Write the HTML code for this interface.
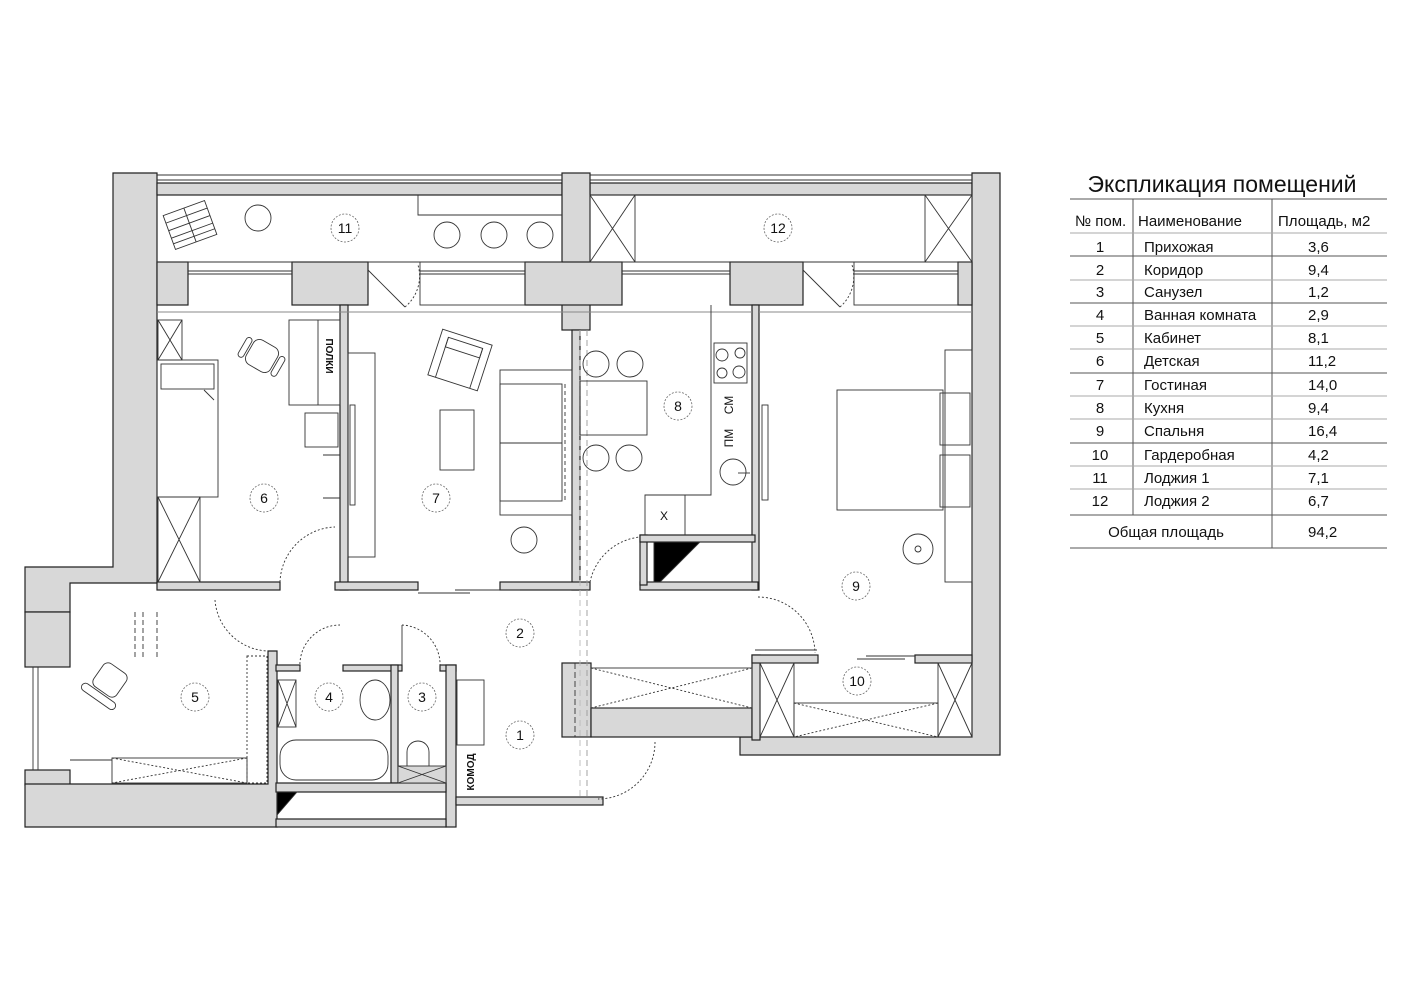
<!DOCTYPE html>
<html><head><meta charset="utf-8"><style>
html,body{margin:0;padding:0;background:#fff;}
svg{display:block;}
text{font-family:"Liberation Sans",Arial,sans-serif;fill:#111;}
</style></head><body>
<svg width="1414" height="1000" viewBox="0 0 1414 1000" xmlns="http://www.w3.org/2000/svg">
<g fill="#d8d8d8" stroke="#222" stroke-width="1.2">
<polygon points="113,173 157,173 157,583 70,583 70,612 25,612 25,567 113,567"/>
<rect x="25" y="612" width="45" height="55"/>
<rect x="25" y="770" width="45" height="15"/>
<polygon points="25,784 268,784 268,651 277,651 277,827 25,827"/>
<rect x="157" y="183" width="405" height="12"/>
<rect x="590" y="183" width="382" height="12"/>
<rect x="562" y="173" width="28" height="157"/>
<rect x="525" y="262" width="97" height="43"/>
<polygon points="972,173 1000,173 1000,755 740,755 740,737 972,737"/>
<rect x="157" y="262" width="31" height="43"/>
<rect x="292" y="262" width="76" height="43"/>
<rect x="730" y="262" width="73" height="43"/>
<rect x="958" y="262" width="14" height="43"/>
<rect x="340" y="305" width="8" height="285"/>
<rect x="572" y="330" width="8" height="260"/>
<rect x="752" y="305" width="7" height="285"/>
<rect x="157" y="582" width="123" height="8"/>
<rect x="335" y="582" width="83" height="8"/>
<rect x="500" y="582" width="90" height="8"/>
<rect x="640" y="582" width="118" height="8"/>
<rect x="640" y="535" width="7" height="50"/>
<rect x="640" y="535" width="115" height="7"/>
<rect x="276" y="665" width="24" height="6"/>
<rect x="343" y="665" width="59" height="6"/>
<rect x="391" y="665" width="7" height="118"/>
<rect x="440" y="665" width="16" height="6"/>
<rect x="446" y="665" width="10" height="162"/>
<rect x="276" y="783" width="170" height="9"/>
<rect x="276" y="819" width="170" height="8"/>
<rect x="456" y="797" width="147" height="8"/>
<rect x="562" y="663" width="29" height="74"/>
<rect x="591" y="708" width="161" height="29"/>
<rect x="752" y="655" width="8" height="85"/>
<rect x="752" y="655" width="66" height="8"/>
<rect x="915" y="655" width="57" height="8"/>
</g>
<g fill="none" stroke="#333" stroke-width="0.9">
<line x1="157" y1="175" x2="562" y2="175"/><line x1="157" y1="180" x2="562" y2="180"/>
<line x1="590" y1="175" x2="972" y2="175"/><line x1="590" y1="180" x2="972" y2="180"/>
<line x1="157" y1="262" x2="562" y2="262"/><line x1="590" y1="262" x2="972" y2="262"/>
<line x1="188" y1="271" x2="292" y2="271"/><line x1="188" y1="274" x2="292" y2="274"/>
<rect x="420" y="262" width="105" height="43"/><line x1="420" y1="271" x2="525" y2="271"/><line x1="420" y1="274" x2="525" y2="274"/>
<line x1="622" y1="271" x2="730" y2="271"/><line x1="622" y1="274" x2="730" y2="274"/>
<rect x="854" y="262" width="104" height="43"/><line x1="854" y1="271" x2="958" y2="271"/><line x1="854" y1="274" x2="958" y2="274"/>
<line x1="157" y1="312" x2="752" y2="312" stroke="#888"/><line x1="759" y1="312" x2="972" y2="312" stroke="#888"/>
<line x1="368" y1="270" x2="405" y2="307"/><path d="M405,307 A40,40 0 0 0 418,265" stroke-dasharray="2,2"/>
<line x1="803" y1="270" x2="840" y2="307"/><path d="M840,307 A40,40 0 0 0 852,265" stroke-dasharray="2,2"/>
<circle cx="258" cy="218" r="13"/><circle cx="447" cy="235" r="13"/><circle cx="494" cy="235" r="13"/><circle cx="540" cy="235" r="13"/>
<polyline points="418,195 418,215 562,215"/>
<g transform="translate(190,225) rotate(-20)"><rect x="-22" y="-18" width="44" height="36"/><line x1="0" y1="-18" x2="0" y2="18"/><line x1="-22" y1="-10" x2="22" y2="-10"/><line x1="-22" y1="-2" x2="22" y2="-2"/><line x1="-22" y1="6" x2="22" y2="6"/><line x1="-22" y1="12" x2="22" y2="12"/></g>
<rect x="590" y="195" width="45" height="67"/><line x1="590" y1="195" x2="635" y2="262"/><line x1="635" y1="195" x2="590" y2="262"/>
<rect x="925" y="195" width="47" height="67"/><line x1="925" y1="195" x2="972" y2="262"/><line x1="972" y1="195" x2="925" y2="262"/>
<rect x="158" y="320" width="24" height="40"/><line x1="158" y1="320" x2="182" y2="360"/><line x1="182" y1="320" x2="158" y2="360"/>
<rect x="157" y="360" width="61" height="137"/><rect x="161" y="364" width="53" height="25"/><polyline points="204,390 214,400"/>
<rect x="158" y="497" width="42" height="85"/><line x1="158" y1="497" x2="200" y2="582"/><line x1="200" y1="497" x2="158" y2="582"/>
<rect x="289" y="320" width="51" height="85"/><line x1="318" y1="320" x2="318" y2="405"/>
<rect x="305" y="413" width="33" height="34"/>
<line x1="323" y1="455" x2="340" y2="455"/><line x1="323" y1="498" x2="340" y2="498"/>
<g transform="translate(262,356) rotate(30)"><rect x="-14" y="-14" width="28" height="28" rx="7"/><rect x="-22" y="-10" width="6" height="22" rx="3"/><rect x="16" y="-10" width="6" height="22" rx="3"/></g>
<path d="M280,582 A57,57 0 0 1 335,527" stroke-dasharray="2,2"/>
<rect x="348" y="353" width="27" height="204"/>
<rect x="350" y="405" width="5" height="100"/>
<g transform="translate(460,360) rotate(18)"><rect x="-26" y="-24" width="52" height="48"/><rect x="-18" y="-18" width="36" height="10"/><line x1="-18" y1="-18" x2="-18" y2="24"/><line x1="18" y1="-18" x2="18" y2="24"/></g>
<rect x="440" y="410" width="34" height="60"/>
<rect x="500" y="370" width="72" height="145"/><rect x="500" y="384" width="62" height="117"/><line x1="500" y1="443" x2="562" y2="443"/>
<line x1="565" y1="384" x2="565" y2="501" stroke-dasharray="4,3"/>
<circle cx="524" cy="540" r="13"/>
<line x1="418" y1="593" x2="470" y2="593"/><line x1="455" y1="590" x2="520" y2="590"/>
<line x1="587" y1="330" x2="587" y2="800" stroke="#999" stroke-dasharray="6,4"/>
<line x1="580" y1="330" x2="580" y2="800" stroke="#bbb" stroke-dasharray="6,4"/>
<polyline points="711,305 711,495 645,495 645,535"/>
<line x1="685" y1="495" x2="685" y2="535"/>
<rect x="714" y="343" width="33" height="40"/>
<circle cx="722" cy="355" r="6"/><circle cx="740" cy="353" r="5"/><circle cx="722" cy="373" r="5"/><circle cx="739" cy="372" r="6"/>
<circle cx="596" cy="364" r="13"/><circle cx="630" cy="364" r="13"/><circle cx="596" cy="458" r="13"/><circle cx="629" cy="458" r="13"/>
<rect x="580" y="381" width="67" height="54"/>
<circle cx="733" cy="472" r="13"/><line x1="738" y1="473" x2="750" y2="473"/>
<rect x="654" y="542" width="98" height="40"/>
<polygon points="654,542 700,542 660,582 654,582" fill="#000"/>
<path d="M590,582 A57,57 0 0 1 640,537" stroke-dasharray="2,2"/>
<rect x="762" y="405" width="6" height="95"/>
<rect x="945" y="350" width="27" height="232"/>
<rect x="837" y="390" width="106" height="120"/>
<rect x="940" y="393" width="30" height="52"/><rect x="940" y="455" width="30" height="52"/>
<circle cx="918" cy="549" r="15"/><circle cx="918" cy="549" r="3"/>
<path d="M758,597 A57,57 0 0 1 815,653" stroke-dasharray="2,2"/>
<line x1="817" y1="650" x2="755" y2="650"/>
<line x1="857" y1="659" x2="905" y2="659"/><line x1="866" y1="656" x2="915" y2="656"/>
<rect x="760" y="663" width="34" height="74"/><line x1="760" y1="663" x2="794" y2="737"/><line x1="794" y1="663" x2="760" y2="737"/>
<rect x="938" y="663" width="34" height="74"/><line x1="938" y1="663" x2="972" y2="737"/><line x1="972" y1="663" x2="938" y2="737"/>
<rect x="794" y="703" width="144" height="34"/><line x1="794" y1="703" x2="938" y2="737" stroke-dasharray="2,2"/><line x1="938" y1="703" x2="794" y2="737" stroke-dasharray="2,2"/>
<rect x="591" y="668" width="161" height="40"/><line x1="591" y1="668" x2="752" y2="708" stroke-dasharray="2,2"/><line x1="752" y1="668" x2="591" y2="708" stroke-dasharray="2,2"/>
<line x1="575" y1="663" x2="575" y2="737" stroke-dasharray="6,3"/>
<path d="M655,742 A57,57 0 0 1 598,799" stroke-dasharray="2,2"/>
<line x1="38" y1="667" x2="38" y2="770"/><line x1="33" y1="667" x2="33" y2="770"/>
<line x1="135" y1="612" x2="135" y2="660" stroke-dasharray="5,3"/><line x1="143" y1="612" x2="143" y2="660" stroke-dasharray="5,3"/><line x1="157" y1="612" x2="157" y2="660" stroke-dasharray="5,3"/>
<line x1="70" y1="760" x2="112" y2="760"/>
<rect x="112" y="758" width="135" height="25"/><line x1="112" y1="758" x2="247" y2="783" stroke-dasharray="2,2"/><line x1="247" y1="758" x2="112" y2="783" stroke-dasharray="2,2"/>
<rect x="247" y="656" width="20" height="127" stroke-dasharray="2,2"/>
<g transform="translate(110,680) rotate(35)"><rect x="-14" y="-14" width="28" height="28" rx="6"/><rect x="-20" y="16" width="40" height="8" rx="4"/></g>
<path d="M215,600 A55,55 0 0 0 268,651" stroke-dasharray="2,2"/>
<rect x="278" y="680" width="18" height="47"/><line x1="278" y1="680" x2="296" y2="727"/><line x1="296" y1="680" x2="278" y2="727"/>
<rect x="280" y="740" width="108" height="40" rx="16"/>
<ellipse cx="375" cy="700" rx="15" ry="20"/>
<path d="M407,768 L407,752 A11,11 0 0 1 429,752 L429,768 Z"/>
<rect x="398" y="766" width="48" height="17" fill="#d8d8d8"/><line x1="398" y1="766" x2="446" y2="783"/><line x1="446" y1="766" x2="398" y2="783"/>
<polygon points="277,792 297,792 277,815" fill="#000"/>
<path d="M300,668 A40,40 0 0 1 340,625" stroke-dasharray="2,2"/>
<path d="M402,625 A40,40 0 0 1 440,668" stroke-dasharray="2,2"/><line x1="402" y1="625" x2="402" y2="665"/>
<rect x="457" y="680" width="27" height="65"/>
</g>
<g fill="none" stroke="#666" stroke-width="0.8" stroke-dasharray="2,1.5">
<circle cx="345" cy="228" r="14"/><circle cx="778" cy="228" r="14"/><circle cx="264" cy="498" r="14"/><circle cx="436" cy="498" r="14"/>
<circle cx="678" cy="406" r="14"/><circle cx="856" cy="586" r="14"/><circle cx="857" cy="681" r="14"/><circle cx="195" cy="697" r="14"/>
<circle cx="329" cy="697" r="14"/><circle cx="422" cy="697" r="14"/><circle cx="520" cy="633" r="14"/><circle cx="520" cy="735" r="14"/>
</g>
<g font-size="14" text-anchor="middle">
<text x="345" y="233">11</text><text x="778" y="233">12</text><text x="264" y="503">6</text><text x="436" y="503">7</text>
<text x="678" y="411">8</text><text x="856" y="591">9</text><text x="857" y="686">10</text><text x="195" y="702">5</text>
<text x="329" y="702">4</text><text x="422" y="702">3</text><text x="520" y="638">2</text><text x="520" y="740">1</text>
</g>
<g font-size="10" font-weight="bold" text-anchor="middle">
<text transform="translate(326,356) rotate(90)">ПОЛКИ</text>
<text transform="translate(733,405) rotate(-90)" font-size="12" font-weight="normal">СМ</text>
<text transform="translate(733,438) rotate(-90)" font-size="12" font-weight="normal">ПМ</text>
<text transform="translate(474,772) rotate(-90)">КОМОД</text>
<text x="664" y="520" font-size="12" font-weight="normal">Х</text>
</g>
<text x="1222" y="192" font-size="23" text-anchor="middle">Экспликация помещений</text>
<g stroke="#555" stroke-width="1">
<line x1="1070" y1="199" x2="1387" y2="199"/>
<line x1="1133" y1="199" x2="1133" y2="515"/>
<line x1="1272" y1="199" x2="1272" y2="548"/>
<line x1="1070" y1="233" x2="1387" y2="233" stroke="#aaa"/>
<line x1="1070" y1="256" x2="1387" y2="256"/>
<line x1="1070" y1="280" x2="1387" y2="280" stroke="#aaa"/>
<line x1="1070" y1="303" x2="1387" y2="303"/>
<line x1="1070" y1="326" x2="1387" y2="326" stroke="#aaa"/>
<line x1="1070" y1="349" x2="1387" y2="349" stroke="#aaa"/>
<line x1="1070" y1="373" x2="1387" y2="373"/>
<line x1="1070" y1="396" x2="1387" y2="396" stroke="#aaa"/>
<line x1="1070" y1="419" x2="1387" y2="419" stroke="#aaa"/>
<line x1="1070" y1="443" x2="1387" y2="443"/>
<line x1="1070" y1="466" x2="1387" y2="466" stroke="#aaa"/>
<line x1="1070" y1="489" x2="1387" y2="489" stroke="#aaa"/>
<line x1="1070" y1="515" x2="1387" y2="515"/>
<line x1="1070" y1="548" x2="1387" y2="548"/>
</g>
<g font-size="15">
<text x="1075" y="226">№ пом.</text><text x="1138" y="226">Наименование</text><text x="1278" y="226">Площадь, м2</text>
<g text-anchor="middle">
<text x="1100" y="252">1</text><text x="1100" y="275">2</text><text x="1100" y="297">3</text><text x="1100" y="320">4</text><text x="1100" y="343">5</text><text x="1100" y="366">6</text><text x="1100" y="390">7</text><text x="1100" y="413">8</text><text x="1100" y="436">9</text><text x="1100" y="460">10</text><text x="1100" y="483">11</text><text x="1100" y="506">12</text>
</g>
<text x="1144" y="252">Прихожая</text><text x="1144" y="275">Коридор</text><text x="1144" y="297">Санузел</text><text x="1144" y="320">Ванная комната</text><text x="1144" y="343">Кабинет</text><text x="1144" y="366">Детская</text><text x="1144" y="390">Гостиная</text><text x="1144" y="413">Кухня</text><text x="1144" y="436">Спальня</text><text x="1144" y="460">Гардеробная</text><text x="1144" y="483">Лоджия 1</text><text x="1144" y="506">Лоджия 2</text>
<text x="1308" y="252">3,6</text><text x="1308" y="275">9,4</text><text x="1308" y="297">1,2</text><text x="1308" y="320">2,9</text><text x="1308" y="343">8,1</text><text x="1308" y="366">11,2</text><text x="1308" y="390">14,0</text><text x="1308" y="413">9,4</text><text x="1308" y="436">16,4</text><text x="1308" y="460">4,2</text><text x="1308" y="483">7,1</text><text x="1308" y="506">6,7</text>
<text x="1166" y="537" text-anchor="middle">Общая площадь</text><text x="1308" y="537">94,2</text>
</g>
</svg>
</body></html>
